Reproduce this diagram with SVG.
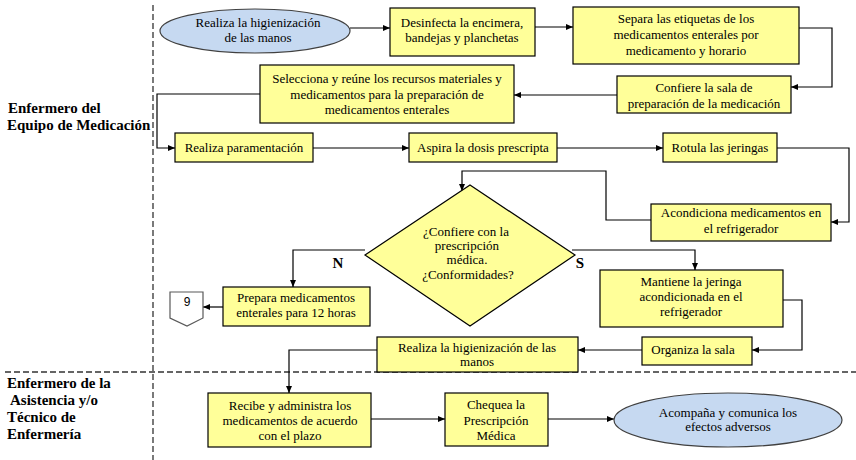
<svg xmlns="http://www.w3.org/2000/svg" width="856" height="460" viewBox="0 0 856 460">
<style>
.box{fill:#FFFF99;stroke:#000;stroke-width:1.2}
.ell{fill:#C6D9F1;stroke:#404040;stroke-width:1.2}
.t{font-family:"Liberation Serif","Times New Roman",serif;font-size:13px;fill:#000;text-anchor:middle}
.lane{font-family:"Liberation Serif","Times New Roman",serif;font-size:15px;font-weight:bold;fill:#000}
.yn{font-family:"Liberation Serif","Times New Roman",serif;font-size:15px;font-weight:bold;fill:#000;text-anchor:middle}
.c{fill:none;stroke:#000;stroke-width:1.2;marker-end:url(#ah)}
.g{fill:none;stroke:#808080;stroke-width:2;marker-end:url(#ah)}
.dash{fill:none;stroke:#333;stroke-width:1.3;stroke-dasharray:6,3}
</style>
<defs>
<marker id="ah" markerUnits="userSpaceOnUse" markerWidth="8" markerHeight="8" refX="7" refY="3" orient="auto">
<path d="M0,0 L7,3 L0,6 Z" fill="#000"/>
</marker>
</defs>
<rect width="856" height="460" fill="#fff"/>
<g id="lanes">
<line class="dash" x1="153" y1="5" x2="153" y2="460"/>
<line class="dash" x1="5" y1="372" x2="856" y2="372"/>
<text class="lane" x="8" y="113">Enfermero del</text>
<text class="lane" x="7" y="130">Equipo de Medicación</text>
<text class="lane" x="7" y="388">Enfermero de la</text>
<text class="lane" x="10" y="405">Asistencia y/o</text>
<text class="lane" x="7" y="422">Técnico de</text>
<text class="lane" x="7" y="439">Enfermería</text>
</g>
<g id="connectors">
<path class="c" d="M350,28 H390"/>
<path class="c" d="M535,27 H573"/>
<path class="c" d="M799,28 H832 V87 H791"/>
<path class="g" d="M617,95 H514"/>
<path class="c" d="M260,94 H157 V148 H175"/>
<path class="c" d="M313,148 H409"/>
<path class="c" d="M557,148 H663"/>
<path class="c" d="M777,148 H849 V222 H831"/>
<path class="c" d="M651,220 H606 V171 H462 V191"/>
<path class="c" d="M365,250 H293 V287"/>
<path class="c" d="M223,307 H203"/>
<path class="c" d="M572,250 H695 V270"/>
<path class="c" d="M783,300 H802 V350 H752"/>
<path class="g" d="M642,350 H578"/>
<path class="c" d="M377,350 H289 V393"/>
<path class="c" d="M371,419 H445"/>
<path class="c" d="M548,419 H614"/>
<text class="yn" x="338" y="268">N</text>
<text class="yn" x="580" y="268">S</text>
</g>
<g id="n1">
<ellipse class="ell" cx="255" cy="31" rx="95" ry="22"/>
<text class="t" x="258" y="27">Realiza la higienización</text>
<text class="t" x="258" y="42">de las manos</text>
</g>
<g id="n2">
<rect class="box" x="390" y="8" width="145" height="48"/>
<text class="t" x="462" y="27">Desinfecta la encimera,</text>
<text class="t" x="462" y="42">bandejas y planchetas</text>
</g>
<g id="n3">
<rect class="box" x="573" y="7" width="226" height="57"/>
<text class="t" x="686" y="23">Separa las etiquetas de los</text>
<text class="t" x="686" y="39">medicamentos enterales por</text>
<text class="t" x="686" y="55">medicamento y horario</text>
</g>
<g id="n4">
<rect class="box" x="617" y="76" width="174" height="37"/>
<text class="t" x="704" y="92">Confiere la sala de</text>
<text class="t" x="704" y="108">preparación de la medicación</text>
</g>
<g id="n5">
<rect class="box" x="260" y="65" width="254" height="58"/>
<text class="t" x="387" y="83">Selecciona y reúne los recursos materiales y</text>
<text class="t" x="387" y="99">medicamentos para la preparación de</text>
<text class="t" x="387" y="114">medicamentos enterales</text>
</g>
<g id="n6">
<rect class="box" x="175" y="133" width="138" height="29"/>
<text class="t" x="244" y="152">Realiza paramentación</text>
</g>
<g id="n7">
<rect class="box" x="409" y="133" width="148" height="29"/>
<text class="t" x="483" y="152">Aspira la dosis prescripta</text>
</g>
<g id="n8">
<rect class="box" x="663" y="133" width="114" height="29"/>
<text class="t" x="720" y="152">Rotula las jeringas</text>
</g>
<g id="n9">
<rect class="box" x="651" y="204" width="180" height="37"/>
<text class="t" x="741" y="217">Acondiciona medicamentos en</text>
<text class="t" x="741" y="233">el refrigerador</text>
</g>
<g id="n10">
<polygon class="box" points="470,185 575,255 470,326 365,255"/>
<text class="t" x="466" y="236">¿Confiere con la</text>
<text class="t" x="467" y="250">prescripción</text>
<text class="t" x="467" y="264">médica.</text>
<text class="t" x="468" y="279">¿Conformidades?</text>
</g>
<g id="n11">
<rect class="box" x="223" y="287" width="147" height="39"/>
<text class="t" x="296" y="302">Prepara medicamentos</text>
<text class="t" x="296" y="317">enterales para 12 horas</text>
</g>
<g id="n12">
<polygon points="170,292 203,292 203,318 187,326 170,318" fill="#fff" stroke="#595959" stroke-width="1.2"/>
<text x="187" y="306" text-anchor="middle" font-family="Liberation Sans, Arial, sans-serif" font-size="12">9</text>
</g>
<g id="n13">
<rect class="box" x="600" y="270" width="183" height="57"/>
<text class="t" x="691" y="286">Mantiene la jeringa</text>
<text class="t" x="691" y="301">acondicionada en el</text>
<text class="t" x="691" y="316">refrigerador</text>
</g>
<g id="n14">
<rect class="box" x="642" y="337" width="110" height="28"/>
<text class="t" x="693" y="354">Organiza la sala</text>
</g>
<g id="n15">
<rect class="box" x="377" y="337" width="201" height="35"/>
<text class="t" x="477" y="352">Realiza la higienización de las</text>
<text class="t" x="477" y="366">manos</text>
</g>
<g id="n16">
<rect class="box" x="208" y="393" width="163" height="54"/>
<text class="t" x="290" y="410">Recibe y administra los</text>
<text class="t" x="290" y="425">medicamentos de acuerdo</text>
<text class="t" x="290" y="440">con el plazo</text>
</g>
<g id="n17">
<rect class="box" x="445" y="393" width="103" height="53"/>
<text class="t" x="496" y="409">Chequea la</text>
<text class="t" x="496" y="425">Prescripción</text>
<text class="t" x="496" y="440">Médica</text>
</g>
<g id="n18">
<ellipse class="ell" cx="728" cy="420" rx="114" ry="27"/>
<text class="t" x="728" y="417">Acompaña y comunica los</text>
<text class="t" x="728" y="431">efectos adversos</text>
</g>
</svg>
